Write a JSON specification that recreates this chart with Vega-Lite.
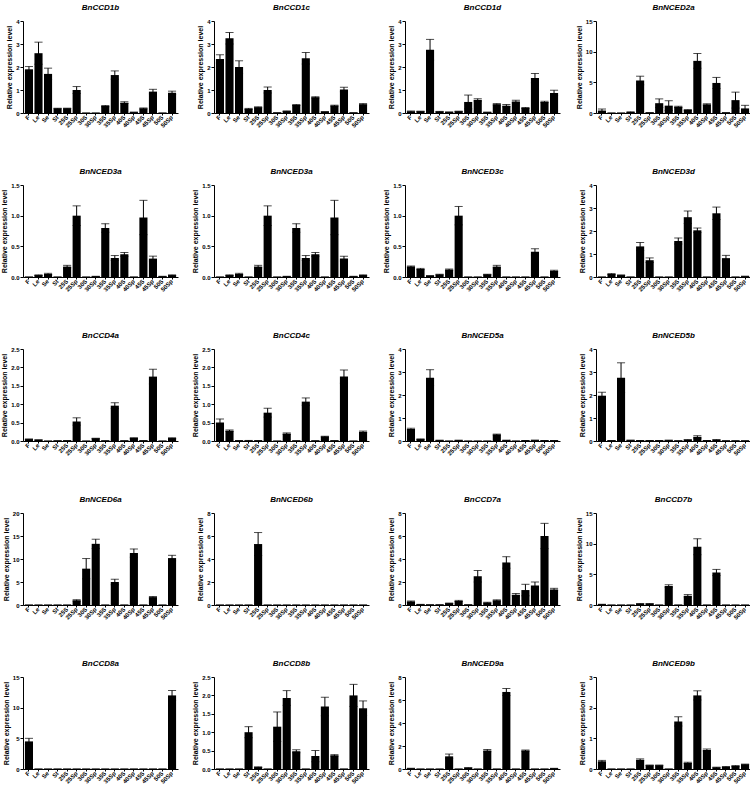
{
"$schema":"https://vega.github.io/schema/vega-lite/v6.json",
"padding":{"left":0,"top":4,"right":0,"bottom":0},
"background":"white",
"datasets":{"d":[
{"p":1,"c":"F","v":1.9,"e":0.12},{"p":1,"c":"Le","v":2.6,"e":0.48},{"p":1,"c":"Se","v":1.7,"e":0.25},{"p":1,"c":"St","v":0.2,"e":0.01},{"p":1,"c":"25S","v":0.2,"e":0.01},{"p":1,"c":"25Sp","v":1.0,"e":0.15},{"p":1,"c":"30S","v":0,"e":0},{"p":1,"c":"30Sp","v":0,"e":0},{"p":1,"c":"35S","v":0.3,"e":0.03},{"p":1,"c":"35Sp","v":1.65,"e":0.18},{"p":1,"c":"40S","v":0.45,"e":0.04},{"p":1,"c":"40Sp","v":0.03,"e":0},{"p":1,"c":"45S","v":0.2,"e":0.02},{"p":1,"c":"45Sp","v":0.93,"e":0.1},{"p":1,"c":"50S","v":0,"e":0},{"p":1,"c":"50Sp","v":0.88,"e":0.07},
{"p":2,"c":"F","v":2.35,"e":0.18},{"p":2,"c":"Le","v":3.25,"e":0.25},{"p":2,"c":"Se","v":2.0,"e":0.27},{"p":2,"c":"St","v":0.18,"e":0.02},{"p":2,"c":"25S","v":0.25,"e":0.02},{"p":2,"c":"25Sp","v":1.0,"e":0.13},{"p":2,"c":"30S","v":0.01,"e":0},{"p":2,"c":"30Sp","v":0.08,"e":0.01},{"p":2,"c":"35S","v":0.35,"e":0.02},{"p":2,"c":"35Sp","v":2.38,"e":0.25},{"p":2,"c":"40S","v":0.68,"e":0.03},{"p":2,"c":"40Sp","v":0.05,"e":0},{"p":2,"c":"45S","v":0.32,"e":0.02},{"p":2,"c":"45Sp","v":1.02,"e":0.1},{"p":2,"c":"50S","v":0.01,"e":0},{"p":2,"c":"50Sp","v":0.38,"e":0.03},
{"p":3,"c":"F","v":0.07,"e":0.02},{"p":3,"c":"Le","v":0.07,"e":0.01},{"p":3,"c":"Se","v":2.75,"e":0.45},{"p":3,"c":"St","v":0.06,"e":0.01},{"p":3,"c":"25S","v":0.04,"e":0},{"p":3,"c":"25Sp","v":0.07,"e":0.01},{"p":3,"c":"30S","v":0.48,"e":0.3},{"p":3,"c":"30Sp","v":0.57,"e":0.05},{"p":3,"c":"35S","v":0.03,"e":0},{"p":3,"c":"35Sp","v":0.38,"e":0.03},{"p":3,"c":"40S","v":0.32,"e":0.05},{"p":3,"c":"40Sp","v":0.5,"e":0.05},{"p":3,"c":"45S","v":0.22,"e":0.02},{"p":3,"c":"45Sp","v":1.52,"e":0.2},{"p":3,"c":"50S","v":0.48,"e":0.03},{"p":3,"c":"50Sp","v":0.87,"e":0.12},
{"p":4,"c":"F","v":0.4,"e":0.25},{"p":4,"c":"Le","v":0,"e":0},{"p":4,"c":"Se","v":0,"e":0},{"p":4,"c":"St","v":0.15,"e":0.05},{"p":4,"c":"25S","v":5.3,"e":0.7},{"p":4,"c":"25Sp","v":0.05,"e":0},{"p":4,"c":"30S","v":1.6,"e":0.7},{"p":4,"c":"30Sp","v":1.2,"e":0.8},{"p":4,"c":"35S","v":1.0,"e":0.1},{"p":4,"c":"35Sp","v":0.5,"e":0.05},{"p":4,"c":"40S","v":8.5,"e":1.2},{"p":4,"c":"40Sp","v":1.4,"e":0.1},{"p":4,"c":"45S","v":4.9,"e":0.9},{"p":4,"c":"45Sp","v":0.05,"e":0},{"p":4,"c":"50S","v":2.1,"e":1.3},{"p":4,"c":"50Sp","v":0.75,"e":0.5},
{"p":5,"c":"F","v":0,"e":0},{"p":5,"c":"Le","v":0.03,"e":0.005},{"p":5,"c":"Se","v":0.05,"e":0.01},{"p":5,"c":"St","v":0,"e":0},{"p":5,"c":"25S","v":0.17,"e":0.02},{"p":5,"c":"25Sp","v":1.0,"e":0.16},{"p":5,"c":"30S","v":0,"e":0},{"p":5,"c":"30Sp","v":0.01,"e":0},{"p":5,"c":"35S","v":0.8,"e":0.07},{"p":5,"c":"35Sp","v":0.31,"e":0.04},{"p":5,"c":"40S","v":0.37,"e":0.03},{"p":5,"c":"40Sp","v":0,"e":0},{"p":5,"c":"45S","v":0.97,"e":0.28},{"p":5,"c":"45Sp","v":0.3,"e":0.04},{"p":5,"c":"50S","v":0.01,"e":0},{"p":5,"c":"50Sp","v":0.03,"e":0.005},
{"p":6,"c":"F","v":0,"e":0},{"p":6,"c":"Le","v":0.03,"e":0.005},{"p":6,"c":"Se","v":0.05,"e":0.01},{"p":6,"c":"St","v":0,"e":0},{"p":6,"c":"25S","v":0.17,"e":0.02},{"p":6,"c":"25Sp","v":1.0,"e":0.16},{"p":6,"c":"30S","v":0,"e":0},{"p":6,"c":"30Sp","v":0.01,"e":0},{"p":6,"c":"35S","v":0.8,"e":0.07},{"p":6,"c":"35Sp","v":0.31,"e":0.04},{"p":6,"c":"40S","v":0.37,"e":0.03},{"p":6,"c":"40Sp","v":0,"e":0},{"p":6,"c":"45S","v":0.97,"e":0.28},{"p":6,"c":"45Sp","v":0.3,"e":0.04},{"p":6,"c":"50S","v":0.01,"e":0},{"p":6,"c":"50Sp","v":0.03,"e":0.005},
{"p":7,"c":"F","v":0.17,"e":0.01},{"p":7,"c":"Le","v":0.13,"e":0.01},{"p":7,"c":"Se","v":0.02,"e":0},{"p":7,"c":"St","v":0.04,"e":0.005},{"p":7,"c":"25S","v":0.12,"e":0.01},{"p":7,"c":"25Sp","v":1.0,"e":0.15},{"p":7,"c":"30S","v":0,"e":0},{"p":7,"c":"30Sp","v":0,"e":0},{"p":7,"c":"35S","v":0.04,"e":0.005},{"p":7,"c":"35Sp","v":0.17,"e":0.02},{"p":7,"c":"40S","v":0,"e":0},{"p":7,"c":"40Sp","v":0,"e":0},{"p":7,"c":"45S","v":0,"e":0},{"p":7,"c":"45Sp","v":0.41,"e":0.05},{"p":7,"c":"50S","v":0,"e":0},{"p":7,"c":"50Sp","v":0.1,"e":0.01},
{"p":8,"c":"F","v":0,"e":0},{"p":8,"c":"Le","v":0.13,"e":0.02},{"p":8,"c":"Se","v":0.08,"e":0.01},{"p":8,"c":"St","v":0,"e":0},{"p":8,"c":"25S","v":1.33,"e":0.17},{"p":8,"c":"25Sp","v":0.73,"e":0.1},{"p":8,"c":"30S","v":0,"e":0},{"p":8,"c":"30Sp","v":0,"e":0},{"p":8,"c":"35S","v":1.57,"e":0.13},{"p":8,"c":"35Sp","v":2.6,"e":0.27},{"p":8,"c":"40S","v":2.03,"e":0.1},{"p":8,"c":"40Sp","v":0,"e":0},{"p":8,"c":"45S","v":2.77,"e":0.27},{"p":8,"c":"45Sp","v":0.82,"e":0.12},{"p":8,"c":"50S","v":0,"e":0},{"p":8,"c":"50Sp","v":0.03,"e":0},
{"p":9,"c":"F","v":0.05,"e":0.005},{"p":9,"c":"Le","v":0.03,"e":0},{"p":9,"c":"Se","v":0,"e":0},{"p":9,"c":"St","v":0.01,"e":0},{"p":9,"c":"25S","v":0.01,"e":0},{"p":9,"c":"25Sp","v":0.53,"e":0.1},{"p":9,"c":"30S","v":0,"e":0},{"p":9,"c":"30Sp","v":0.07,"e":0.005},{"p":9,"c":"35S","v":0.01,"e":0},{"p":9,"c":"35Sp","v":0.96,"e":0.08},{"p":9,"c":"40S","v":0.01,"e":0},{"p":9,"c":"40Sp","v":0.08,"e":0.005},{"p":9,"c":"45S","v":0.01,"e":0},{"p":9,"c":"45Sp","v":1.75,"e":0.2},{"p":9,"c":"50S","v":0,"e":0},{"p":9,"c":"50Sp","v":0.08,"e":0.005},
{"p":10,"c":"F","v":0.5,"e":0.1},{"p":10,"c":"Le","v":0.28,"e":0.02},{"p":10,"c":"Se","v":0.01,"e":0},{"p":10,"c":"St","v":0.01,"e":0.005},{"p":10,"c":"25S","v":0.01,"e":0},{"p":10,"c":"25Sp","v":0.77,"e":0.12},{"p":10,"c":"30S","v":0,"e":0},{"p":10,"c":"30Sp","v":0.2,"e":0.02},{"p":10,"c":"35S","v":0.01,"e":0},{"p":10,"c":"35Sp","v":1.07,"e":0.1},{"p":10,"c":"40S","v":0.01,"e":0},{"p":10,"c":"40Sp","v":0.12,"e":0.01},{"p":10,"c":"45S","v":0.01,"e":0},{"p":10,"c":"45Sp","v":1.75,"e":0.18},{"p":10,"c":"50S","v":0,"e":0},{"p":10,"c":"50Sp","v":0.25,"e":0.02},
{"p":11,"c":"F","v":0.52,"e":0.03},{"p":11,"c":"Le","v":0.08,"e":0.01},{"p":11,"c":"Se","v":2.75,"e":0.35},{"p":11,"c":"St","v":0.03,"e":0},{"p":11,"c":"25S","v":0,"e":0},{"p":11,"c":"25Sp","v":0.03,"e":0},{"p":11,"c":"30S","v":0,"e":0},{"p":11,"c":"30Sp","v":0,"e":0},{"p":11,"c":"35S","v":0,"e":0},{"p":11,"c":"35Sp","v":0.28,"e":0.02},{"p":11,"c":"40S","v":0.03,"e":0},{"p":11,"c":"40Sp","v":0,"e":0},{"p":11,"c":"45S","v":0.02,"e":0},{"p":11,"c":"45Sp","v":0.03,"e":0},{"p":11,"c":"50S","v":0.02,"e":0},{"p":11,"c":"50Sp","v":0.02,"e":0},
{"p":12,"c":"F","v":1.97,"e":0.15},{"p":12,"c":"Le","v":0.02,"e":0},{"p":12,"c":"Se","v":2.75,"e":0.65},{"p":12,"c":"St","v":0.03,"e":0},{"p":12,"c":"25S","v":0.02,"e":0},{"p":12,"c":"25Sp","v":0.02,"e":0},{"p":12,"c":"30S","v":0.02,"e":0},{"p":12,"c":"30Sp","v":0.03,"e":0.01},{"p":12,"c":"35S","v":0.01,"e":0},{"p":12,"c":"35Sp","v":0.05,"e":0.01},{"p":12,"c":"40S","v":0.18,"e":0.05},{"p":12,"c":"40Sp","v":0.02,"e":0},{"p":12,"c":"45S","v":0.05,"e":0.01},{"p":12,"c":"45Sp","v":0.01,"e":0},{"p":12,"c":"50S","v":0.01,"e":0},{"p":12,"c":"50Sp","v":0.01,"e":0},
{"p":13,"c":"F","v":0,"e":0},{"p":13,"c":"Le","v":0,"e":0},{"p":13,"c":"Se","v":0,"e":0},{"p":13,"c":"St","v":0,"e":0},{"p":13,"c":"25S","v":0,"e":0},{"p":13,"c":"25Sp","v":1.0,"e":0.15},{"p":13,"c":"30S","v":7.9,"e":2.2},{"p":13,"c":"30Sp","v":13.3,"e":1.0},{"p":13,"c":"35S","v":0,"e":0},{"p":13,"c":"35Sp","v":5.0,"e":0.6},{"p":13,"c":"40S","v":0,"e":0},{"p":13,"c":"40Sp","v":11.3,"e":0.9},{"p":13,"c":"45S","v":0,"e":0},{"p":13,"c":"45Sp","v":1.7,"e":0.15},{"p":13,"c":"50S","v":0,"e":0},{"p":13,"c":"50Sp","v":10.2,"e":0.6},
{"p":14,"c":"F","v":0,"e":0},{"p":14,"c":"Le","v":0,"e":0},{"p":14,"c":"Se","v":0,"e":0},{"p":14,"c":"St","v":0,"e":0},{"p":14,"c":"25S","v":5.3,"e":1.0},{"p":14,"c":"25Sp","v":0,"e":0},{"p":14,"c":"30S","v":0,"e":0},{"p":14,"c":"30Sp","v":0,"e":0},{"p":14,"c":"35S","v":0,"e":0},{"p":14,"c":"35Sp","v":0,"e":0},{"p":14,"c":"40S","v":0,"e":0},{"p":14,"c":"40Sp","v":0,"e":0},{"p":14,"c":"45S","v":0,"e":0},{"p":14,"c":"45Sp","v":0,"e":0},{"p":14,"c":"50S","v":0,"e":0},{"p":14,"c":"50Sp","v":0,"e":0},
{"p":15,"c":"F","v":0.3,"e":0.05},{"p":15,"c":"Le","v":0.05,"e":0},{"p":15,"c":"Se","v":0.02,"e":0},{"p":15,"c":"St","v":0.02,"e":0},{"p":15,"c":"25S","v":0.15,"e":0.02},{"p":15,"c":"25Sp","v":0.35,"e":0.05},{"p":15,"c":"30S","v":0.02,"e":0},{"p":15,"c":"30Sp","v":2.5,"e":0.5},{"p":15,"c":"35S","v":0.2,"e":0.03},{"p":15,"c":"35Sp","v":0.4,"e":0.05},{"p":15,"c":"40S","v":3.7,"e":0.5},{"p":15,"c":"40Sp","v":0.9,"e":0.1},{"p":15,"c":"45S","v":1.3,"e":0.5},{"p":15,"c":"45Sp","v":1.7,"e":0.3},{"p":15,"c":"50S","v":6.0,"e":1.1},{"p":15,"c":"50Sp","v":1.35,"e":0.1},
{"p":16,"c":"F","v":0.1,"e":0.02},{"p":16,"c":"Le","v":0,"e":0},{"p":16,"c":"Se","v":0,"e":0},{"p":16,"c":"St","v":0,"e":0},{"p":16,"c":"25S","v":0.2,"e":0.03},{"p":16,"c":"25Sp","v":0.2,"e":0.03},{"p":16,"c":"30S","v":0,"e":0},{"p":16,"c":"30Sp","v":3.1,"e":0.2},{"p":16,"c":"35S","v":0,"e":0},{"p":16,"c":"35Sp","v":1.5,"e":0.2},{"p":16,"c":"40S","v":9.5,"e":1.3},{"p":16,"c":"40Sp","v":0,"e":0},{"p":16,"c":"45S","v":5.3,"e":0.5},{"p":16,"c":"45Sp","v":0,"e":0},{"p":16,"c":"50S","v":0,"e":0},{"p":16,"c":"50Sp","v":0,"e":0},
{"p":17,"c":"F","v":4.5,"e":0.5},{"p":17,"c":"Le","v":0,"e":0},{"p":17,"c":"Se","v":0,"e":0},{"p":17,"c":"St","v":0,"e":0},{"p":17,"c":"25S","v":0,"e":0},{"p":17,"c":"25Sp","v":0,"e":0},{"p":17,"c":"30S","v":0,"e":0},{"p":17,"c":"30Sp","v":0,"e":0},{"p":17,"c":"35S","v":0,"e":0},{"p":17,"c":"35Sp","v":0,"e":0},{"p":17,"c":"40S","v":0,"e":0},{"p":17,"c":"40Sp","v":0,"e":0},{"p":17,"c":"45S","v":0,"e":0},{"p":17,"c":"45Sp","v":0,"e":0},{"p":17,"c":"50S","v":0,"e":0},{"p":17,"c":"50Sp","v":12.0,"e":0.8},
{"p":18,"c":"F","v":0,"e":0},{"p":18,"c":"Le","v":0,"e":0},{"p":18,"c":"Se","v":0,"e":0},{"p":18,"c":"St","v":1.0,"e":0.15},{"p":18,"c":"25S","v":0.05,"e":0.01},{"p":18,"c":"25Sp","v":0,"e":0},{"p":18,"c":"30S","v":1.15,"e":0.4},{"p":18,"c":"30Sp","v":1.93,"e":0.2},{"p":18,"c":"35S","v":0.48,"e":0.04},{"p":18,"c":"35Sp","v":0,"e":0},{"p":18,"c":"40S","v":0.35,"e":0.15},{"p":18,"c":"40Sp","v":1.7,"e":0.25},{"p":18,"c":"45S","v":0.37,"e":0.02},{"p":18,"c":"45Sp","v":0,"e":0},{"p":18,"c":"50S","v":2.0,"e":0.3},{"p":18,"c":"50Sp","v":1.65,"e":0.2},
{"p":19,"c":"F","v":0.05,"e":0.01},{"p":19,"c":"Le","v":0,"e":0},{"p":19,"c":"Se","v":0,"e":0},{"p":19,"c":"St","v":0,"e":0},{"p":19,"c":"25S","v":1.1,"e":0.2},{"p":19,"c":"25Sp","v":0,"e":0},{"p":19,"c":"30S","v":0.1,"e":0.02},{"p":19,"c":"30Sp","v":0,"e":0},{"p":19,"c":"35S","v":1.6,"e":0.1},{"p":19,"c":"35Sp","v":0,"e":0},{"p":19,"c":"40S","v":6.7,"e":0.3},{"p":19,"c":"40Sp","v":0,"e":0},{"p":19,"c":"45S","v":1.6,"e":0.05},{"p":19,"c":"45Sp","v":0,"e":0},{"p":19,"c":"50S","v":0,"e":0},{"p":19,"c":"50Sp","v":0.05,"e":0.01},
{"p":20,"c":"F","v":0.25,"e":0.03},{"p":20,"c":"Le","v":0,"e":0},{"p":20,"c":"Se","v":0,"e":0},{"p":20,"c":"St","v":0,"e":0},{"p":20,"c":"25S","v":0.3,"e":0.03},{"p":20,"c":"25Sp","v":0.12,"e":0.01},{"p":20,"c":"30S","v":0.12,"e":0.01},{"p":20,"c":"30Sp","v":0,"e":0},{"p":20,"c":"35S","v":1.55,"e":0.15},{"p":20,"c":"35Sp","v":0.2,"e":0.02},{"p":20,"c":"40S","v":2.4,"e":0.15},{"p":20,"c":"40Sp","v":0.62,"e":0.03},{"p":20,"c":"45S","v":0.05,"e":0.01},{"p":20,"c":"45Sp","v":0.07,"e":0.01},{"p":20,"c":"50S","v":0.1,"e":0.01},{"p":20,"c":"50Sp","v":0.15,"e":0.01}
]},
"data":{"name":"d"},
"columns":4,
"bounds":"flush",
"spacing":{"row":72,"column":36},
"concat":[
{"title":"BnCCD1b","width":155,"height":92,"transform":[{"filter":"datum.p==1"}],"encoding":{"x":{"field":"c","type":"nominal","sort":null},"y":{"field":"v","type":"quantitative","scale":{"domain":[0,4],"nice":false},"axis":{"values":[0,1,2,3,4],"title":"Relative expression level"}}},"layer":[{"mark":"bar"},{"mark":{"type":"errorbar","ticks":true,"color":"black"},"encoding":{"yError":{"field":"e"}}}]},
{"title":"BnCCD1c","width":155,"height":92,"transform":[{"filter":"datum.p==2"}],"encoding":{"x":{"field":"c","type":"nominal","sort":null},"y":{"field":"v","type":"quantitative","scale":{"domain":[0,4],"nice":false},"axis":{"values":[0,1,2,3,4],"title":"Relative expression level"}}},"layer":[{"mark":"bar"},{"mark":{"type":"errorbar","ticks":true,"color":"black"},"encoding":{"yError":{"field":"e"}}}]},
{"title":"BnCCD1d","width":155,"height":92,"transform":[{"filter":"datum.p==3"}],"encoding":{"x":{"field":"c","type":"nominal","sort":null},"y":{"field":"v","type":"quantitative","scale":{"domain":[0,4],"nice":false},"axis":{"values":[0,1,2,3,4],"title":"Relative expression level"}}},"layer":[{"mark":"bar"},{"mark":{"type":"errorbar","ticks":true,"color":"black"},"encoding":{"yError":{"field":"e"}}}]},
{"title":"BnNCED2a","width":155,"height":92,"transform":[{"filter":"datum.p==4"}],"encoding":{"x":{"field":"c","type":"nominal","sort":null},"y":{"field":"v","type":"quantitative","scale":{"domain":[0,15],"nice":false},"axis":{"values":[0,5,10,15],"title":"Relative expression level"}}},"layer":[{"mark":"bar"},{"mark":{"type":"errorbar","ticks":true,"color":"black"},"encoding":{"yError":{"field":"e"}}}]},
{"title":"BnNCED3a","width":155,"height":92,"transform":[{"filter":"datum.p==5"}],"encoding":{"x":{"field":"c","type":"nominal","sort":null},"y":{"field":"v","type":"quantitative","scale":{"domain":[0,1.5],"nice":false},"axis":{"values":[0,0.5,1,1.5],"format":".1f","title":"Relative expression level"}}},"layer":[{"mark":"bar"},{"mark":{"type":"errorbar","ticks":true,"color":"black"},"encoding":{"yError":{"field":"e"}}}]},
{"title":"BnNCED3a","width":155,"height":92,"transform":[{"filter":"datum.p==6"}],"encoding":{"x":{"field":"c","type":"nominal","sort":null},"y":{"field":"v","type":"quantitative","scale":{"domain":[0,1.5],"nice":false},"axis":{"values":[0,0.5,1,1.5],"format":".1f","title":"Relative expression level"}}},"layer":[{"mark":"bar"},{"mark":{"type":"errorbar","ticks":true,"color":"black"},"encoding":{"yError":{"field":"e"}}}]},
{"title":"BnNCED3c","width":155,"height":92,"transform":[{"filter":"datum.p==7"}],"encoding":{"x":{"field":"c","type":"nominal","sort":null},"y":{"field":"v","type":"quantitative","scale":{"domain":[0,1.5],"nice":false},"axis":{"values":[0,0.5,1,1.5],"format":".1f","title":"Relative expression level"}}},"layer":[{"mark":"bar"},{"mark":{"type":"errorbar","ticks":true,"color":"black"},"encoding":{"yError":{"field":"e"}}}]},
{"title":"BnNCED3d","width":155,"height":92,"transform":[{"filter":"datum.p==8"}],"encoding":{"x":{"field":"c","type":"nominal","sort":null},"y":{"field":"v","type":"quantitative","scale":{"domain":[0,4],"nice":false},"axis":{"values":[0,1,2,3,4],"title":"Relative expression level"}}},"layer":[{"mark":"bar"},{"mark":{"type":"errorbar","ticks":true,"color":"black"},"encoding":{"yError":{"field":"e"}}}]},
{"title":"BnCCD4a","width":155,"height":92,"transform":[{"filter":"datum.p==9"}],"encoding":{"x":{"field":"c","type":"nominal","sort":null},"y":{"field":"v","type":"quantitative","scale":{"domain":[0,2.5],"nice":false},"axis":{"values":[0,0.5,1,1.5,2,2.5],"format":".1f","title":"Relative expression level"}}},"layer":[{"mark":"bar"},{"mark":{"type":"errorbar","ticks":true,"color":"black"},"encoding":{"yError":{"field":"e"}}}]},
{"title":"BnCCD4c","width":155,"height":92,"transform":[{"filter":"datum.p==10"}],"encoding":{"x":{"field":"c","type":"nominal","sort":null},"y":{"field":"v","type":"quantitative","scale":{"domain":[0,2.5],"nice":false},"axis":{"values":[0,0.5,1,1.5,2,2.5],"format":".1f","title":"Relative expression level"}}},"layer":[{"mark":"bar"},{"mark":{"type":"errorbar","ticks":true,"color":"black"},"encoding":{"yError":{"field":"e"}}}]},
{"title":"BnNCED5a","width":155,"height":92,"transform":[{"filter":"datum.p==11"}],"encoding":{"x":{"field":"c","type":"nominal","sort":null},"y":{"field":"v","type":"quantitative","scale":{"domain":[0,4],"nice":false},"axis":{"values":[0,1,2,3,4],"title":"Relative expression level"}}},"layer":[{"mark":"bar"},{"mark":{"type":"errorbar","ticks":true,"color":"black"},"encoding":{"yError":{"field":"e"}}}]},
{"title":"BnNCED5b","width":155,"height":92,"transform":[{"filter":"datum.p==12"}],"encoding":{"x":{"field":"c","type":"nominal","sort":null},"y":{"field":"v","type":"quantitative","scale":{"domain":[0,4],"nice":false},"axis":{"values":[0,1,2,3,4],"title":"Relative expression level"}}},"layer":[{"mark":"bar"},{"mark":{"type":"errorbar","ticks":true,"color":"black"},"encoding":{"yError":{"field":"e"}}}]},
{"title":"BnNCED6a","width":155,"height":92,"transform":[{"filter":"datum.p==13"}],"encoding":{"x":{"field":"c","type":"nominal","sort":null},"y":{"field":"v","type":"quantitative","scale":{"domain":[0,20],"nice":false},"axis":{"values":[0,5,10,15,20],"title":"Relative expression level"}}},"layer":[{"mark":"bar"},{"mark":{"type":"errorbar","ticks":true,"color":"black"},"encoding":{"yError":{"field":"e"}}}]},
{"title":"BnNCED6b","width":155,"height":92,"transform":[{"filter":"datum.p==14"}],"encoding":{"x":{"field":"c","type":"nominal","sort":null},"y":{"field":"v","type":"quantitative","scale":{"domain":[0,8],"nice":false},"axis":{"values":[0,2,4,6,8],"title":"Relative expression level"}}},"layer":[{"mark":"bar"},{"mark":{"type":"errorbar","ticks":true,"color":"black"},"encoding":{"yError":{"field":"e"}}}]},
{"title":"BnCCD7a","width":155,"height":92,"transform":[{"filter":"datum.p==15"}],"encoding":{"x":{"field":"c","type":"nominal","sort":null},"y":{"field":"v","type":"quantitative","scale":{"domain":[0,8],"nice":false},"axis":{"values":[0,2,4,6,8],"title":"Relative expression level"}}},"layer":[{"mark":"bar"},{"mark":{"type":"errorbar","ticks":true,"color":"black"},"encoding":{"yError":{"field":"e"}}}]},
{"title":"BnCCD7b","width":155,"height":92,"transform":[{"filter":"datum.p==16"}],"encoding":{"x":{"field":"c","type":"nominal","sort":null},"y":{"field":"v","type":"quantitative","scale":{"domain":[0,15],"nice":false},"axis":{"values":[0,5,10,15],"title":"Relative expression level"}}},"layer":[{"mark":"bar"},{"mark":{"type":"errorbar","ticks":true,"color":"black"},"encoding":{"yError":{"field":"e"}}}]},
{"title":"BnCCD8a","width":155,"height":92,"transform":[{"filter":"datum.p==17"}],"encoding":{"x":{"field":"c","type":"nominal","sort":null},"y":{"field":"v","type":"quantitative","scale":{"domain":[0,15],"nice":false},"axis":{"values":[0,5,10,15],"title":"Relative expression level"}}},"layer":[{"mark":"bar"},{"mark":{"type":"errorbar","ticks":true,"color":"black"},"encoding":{"yError":{"field":"e"}}}]},
{"title":"BnCCD8b","width":155,"height":92,"transform":[{"filter":"datum.p==18"}],"encoding":{"x":{"field":"c","type":"nominal","sort":null},"y":{"field":"v","type":"quantitative","scale":{"domain":[0,2.5],"nice":false},"axis":{"values":[0,0.5,1,1.5,2,2.5],"format":".1f","title":"Relative expression level"}}},"layer":[{"mark":"bar"},{"mark":{"type":"errorbar","ticks":true,"color":"black"},"encoding":{"yError":{"field":"e"}}}]},
{"title":"BnNCED9a","width":155,"height":92,"transform":[{"filter":"datum.p==19"}],"encoding":{"x":{"field":"c","type":"nominal","sort":null},"y":{"field":"v","type":"quantitative","scale":{"domain":[0,8],"nice":false},"axis":{"values":[0,2,4,6,8],"title":"Relative expression level"}}},"layer":[{"mark":"bar"},{"mark":{"type":"errorbar","ticks":true,"color":"black"},"encoding":{"yError":{"field":"e"}}}]},
{"title":"BnNCED9b","width":155,"height":92,"transform":[{"filter":"datum.p==20"}],"encoding":{"x":{"field":"c","type":"nominal","sort":null},"y":{"field":"v","type":"quantitative","scale":{"domain":[0,3],"nice":false},"axis":{"values":[0,1,2,3],"title":"Relative expression level"}}},"layer":[{"mark":"bar"},{"mark":{"type":"errorbar","ticks":true,"color":"black"},"encoding":{"yError":{"field":"e"}}}]}
],
"config":{
"view":{"stroke":null},
"font":"Liberation Sans",
"bar":{"color":"black"},
"scale":{"bandPaddingInner":0.15,"bandPaddingOuter":0.2},
"axis":{"grid":false,"domainColor":"black","tickColor":"black","labelColor":"black","titleColor":"black","labelFont":"Liberation Sans","titleFont":"Liberation Sans","labelFontWeight":"bold","labelFontSize":6,"titleFontSize":7,"titleFontWeight":"bold","domainWidth":1,"tickWidth":1,"tickSize":3,"labelPadding":1,"titlePadding":3},
"axisX":{"title":null,"labelAngle":-45,"labelAlign":"right","labelBaseline":"middle","tickSize":2,"labelColor":"#000000"},
"title":{"font":"Liberation Sans","fontStyle":"italic","fontWeight":"bold","fontSize":8,"offset":6,"color":"black"}
}
}
